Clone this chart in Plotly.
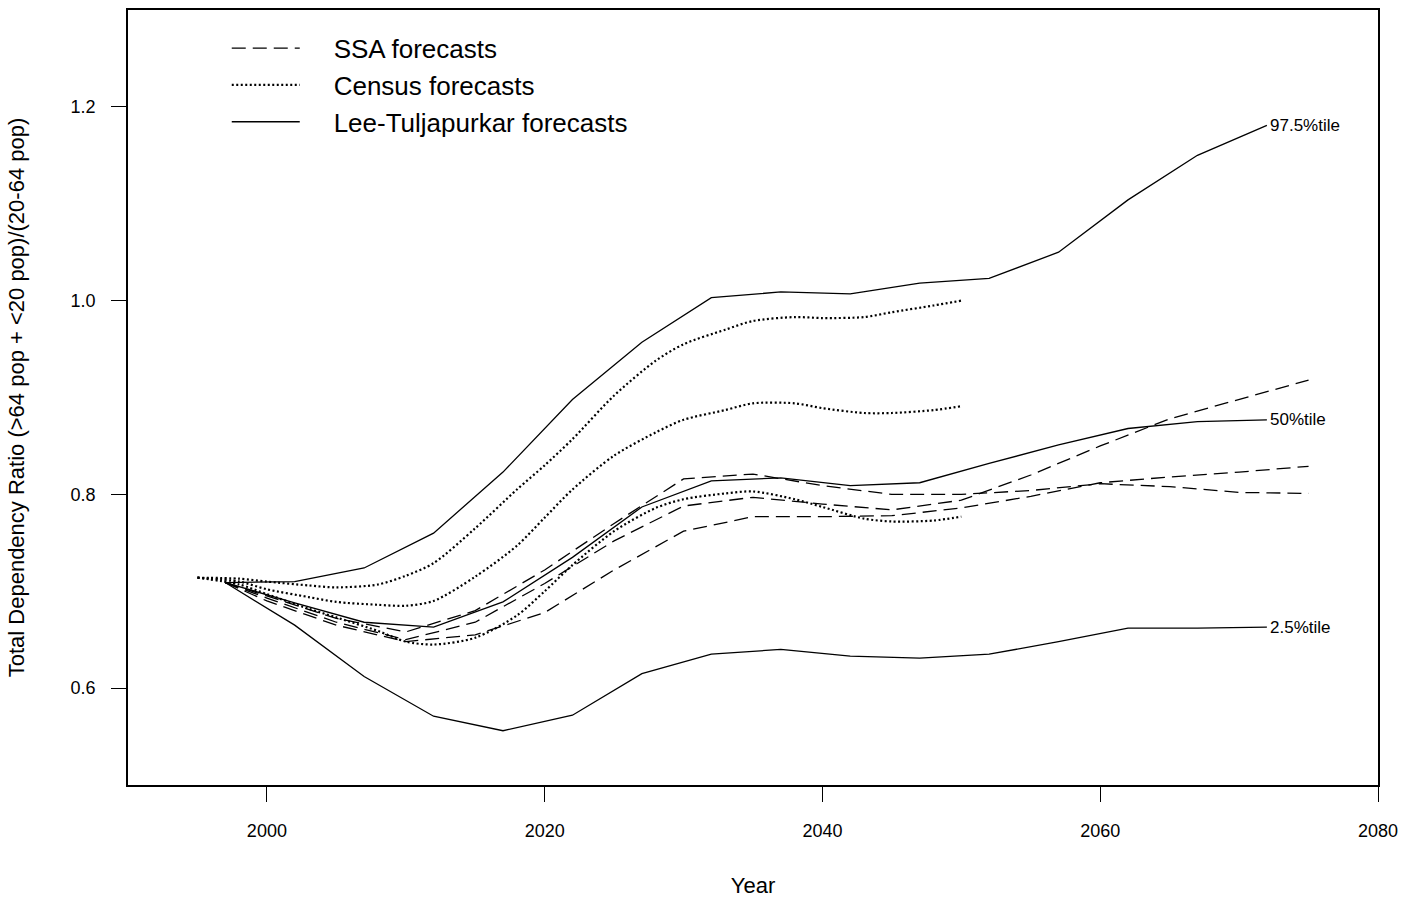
import plotly.graph_objects as go

# ---------------- data ----------------
lt_years = [1997, 2002, 2007, 2012, 2017, 2022, 2027, 2032, 2037, 2042, 2047, 2052, 2057, 2062, 2067, 2072]
lt_high = [0.709, 0.710, 0.724, 0.760, 0.823, 0.898, 0.957, 1.003, 1.009, 1.007, 1.018, 1.023, 1.050, 1.104, 1.150, 1.181]
lt_mid = [0.709, 0.688, 0.668, 0.663, 0.689, 0.735, 0.787, 0.814, 0.817, 0.809, 0.812, 0.832, 0.851, 0.868, 0.875, 0.877]
lt_low = [0.709, 0.665, 0.612, 0.571, 0.556, 0.572, 0.615, 0.635, 0.640, 0.633, 0.631, 0.635, 0.648, 0.662, 0.662, 0.663]

census_years = [1995, 1998, 2000, 2003, 2005, 2008, 2010, 2012, 2015, 2018, 2020, 2022,
                2025, 2028, 2030, 2033, 2035, 2038, 2040, 2043, 2045, 2048, 2050]
census_high = [0.714, 0.713, 0.710, 0.706, 0.704, 0.707, 0.716, 0.729, 0.765, 0.805, 0.830, 0.857,
               0.902, 0.938, 0.955, 0.970, 0.979, 0.983, 0.982, 0.983, 0.988, 0.995, 1.000]
census_mid = [0.714, 0.710, 0.702, 0.694, 0.689, 0.686, 0.685, 0.690, 0.715, 0.747, 0.776, 0.805,
              0.840, 0.864, 0.877, 0.887, 0.894, 0.894, 0.889, 0.884, 0.884, 0.887, 0.891]
census_low = [0.714, 0.707, 0.697, 0.682, 0.673, 0.659, 0.648, 0.645, 0.652, 0.675, 0.700, 0.727,
              0.762, 0.786, 0.795, 0.801, 0.803, 0.795, 0.787, 0.775, 0.772, 0.773, 0.777]

ssa_years = [1997, 2000, 2005, 2010, 2015, 2020, 2025, 2030, 2035, 2040, 2045, 2050, 2055, 2060, 2065, 2070, 2075]
ssa_a = [0.709, 0.695, 0.672, 0.658, 0.680, 0.722, 0.770, 0.816, 0.821, 0.809, 0.800, 0.800, 0.804, 0.811, 0.808, 0.802, 0.801]
ssa_b = [0.709, 0.693, 0.668, 0.650, 0.668, 0.708, 0.752, 0.788, 0.797, 0.790, 0.784, 0.794, 0.820, 0.850, 0.878, 0.898, 0.918]
ssa_c = [0.709, 0.690, 0.665, 0.648, 0.655, 0.678, 0.722, 0.762, 0.777, 0.777, 0.778, 0.786, 0.798, 0.812, 0.818, 0.823, 0.829]

pct_labels = ["97.5%tile", "50%tile", "2.5%tile"]
x_ticks = [2000, 2020, 2040, 2060, 2080]
y_ticks = [0.6, 0.8, 1.0, 1.2]

# ---------------- figure ----------------
FONT = "Liberation Sans, Arial, sans-serif"
LW = 1.3
PAD = "\u00a0" * 4
fig = go.Figure()

for i, vals in enumerate([ssa_a, ssa_b, ssa_c]):
    fig.add_trace(go.Scatter(x=ssa_years, y=vals, mode="lines",
                             line=dict(color="black", width=LW, dash="14px,7px"),
                             name=PAD + "SSA forecasts", legendgroup="ssa", showlegend=(i == 0)))

for i, vals in enumerate([census_high, census_mid, census_low]):
    fig.add_trace(go.Scatter(x=census_years, y=vals, mode="lines",
                             line=dict(color="black", width=2.2, dash="2px,2.5px", shape="spline", smoothing=0.8),
                             name=PAD + "Census forecasts", legendgroup="census", showlegend=(i == 0)))

for i, vals in enumerate([lt_high, lt_mid, lt_low]):
    fig.add_trace(go.Scatter(x=lt_years, y=vals, mode="lines",
                             line=dict(color="black", width=LW),
                             name=PAD + "Lee-Tuljapurkar forecasts", legendgroup="lt", showlegend=(i == 0)))

for lab, vals in zip(pct_labels, [lt_high, lt_mid, lt_low]):
    fig.add_annotation(x=lt_years[-1], y=vals[-1], text=lab, showarrow=False,
                       xanchor="left", yanchor="middle", xshift=1,
                       font=dict(family=FONT, size=17, color="black"))

axis_common = dict(showline=True, linecolor="black", linewidth=1.5, mirror=True,
                   ticks="outside", ticklen=15, tickcolor="black", tickwidth=1,
                   showgrid=False, zeroline=False,
                   tickfont=dict(family=FONT, size=18, color="black"))

fig.update_xaxes(range=[1990, 2080], tickvals=x_ticks, ticktext=[str(t) for t in x_ticks],
                 ticklabelstandoff=14,
                 title=dict(text="Year", font=dict(family=FONT, size=22, color="black"), standoff=37),
                 **axis_common)
fig.update_yaxes(range=[0.5, 1.3], tickvals=y_ticks, ticktext=[f"{t:.1f}" for t in y_ticks],
                 ticklabelstandoff=12,
                 title=dict(text="Total Dependency Ratio (>64 pop + <20 pop)/(20-64 pop)",
                            font=dict(family=FONT, size=22, color="black"), standoff=40),
                 **axis_common)

fig.update_layout(
    width=1415, height=902,
    margin=dict(l=128, r=37, t=8, b=117),
    paper_bgcolor="white", plot_bgcolor="white",
    font=dict(family=FONT, color="black"),
    legend=dict(x=0.079, y=0.981, xanchor="left", yanchor="top",
                bgcolor="rgba(0,0,0,0)", borderwidth=0,
                font=dict(family=FONT, size=26, color="black"),
                itemwidth=68, tracegroupgap=0, traceorder="normal"),
)

fig.write_html("out.html")
